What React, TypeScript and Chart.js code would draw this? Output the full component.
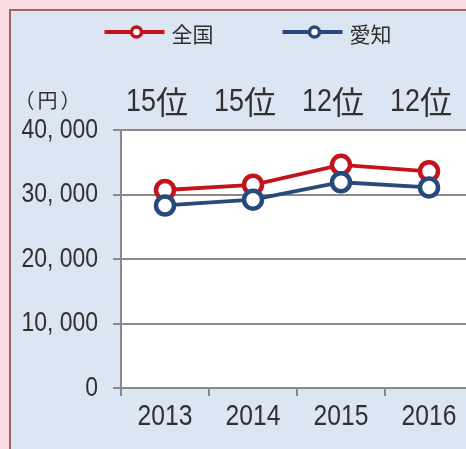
import React, { useEffect, useRef } from "react";
import { Chart, registerables } from "chart.js";

Chart.register(...registerables);

const categories = ["2013", "2014", "2015", "2016"];
const nationalValues = [30700, 31500, 34600, 33600];
const aichiValues = [28300, 29200, 31900, 31100];
const rankLabels = ["15位", "15位", "12位", "12位"];
const yTickLabels = ["0", "10, 000", "20, 000", "30, 000", "40, 000"];
const seriesNames = ["全国", "愛知"];
const unitLabel = "（円）";

const RED = "#c3141d";
const BLUE = "#264b7b";
const GRID = "#8a8a8a";
const TEXT = "#303030";
const LATIN = '"Liberation Sans", Arial, sans-serif';
const CJK = '"Noto Sans CJK JP", sans-serif';

function drawMixed(
  ctx: CanvasRenderingContext2D,
  text: string,
  x: number,
  y: number,
  size: number,
  scaleX: number,
  cjkSize: number,
  align: "left" | "center" | "right"
) {
  const runs = text.match(/[\x00-\x7F]+|[^\x00-\x7F]+/g) || [];
  const parts = runs.map((r) => {
    const ascii = /^[\x00-\x7F]+$/.test(r);
    ctx.font = ascii ? `${size}px ${LATIN}` : `${cjkSize}px ${CJK}`;
    const w = ctx.measureText(r).width * (ascii ? scaleX : 1);
    return { r, ascii, w };
  });
  const total = parts.reduce((a, p) => a + p.w, 0);
  let cx = align === "left" ? x : align === "center" ? x - total / 2 : x - total;
  ctx.textAlign = "left";
  ctx.textBaseline = "middle";
  parts.forEach((p) => {
    ctx.font = p.ascii ? `${size}px ${LATIN}` : `${cjkSize}px ${CJK}`;
    ctx.save();
    ctx.translate(cx, y);
    if (p.ascii) ctx.scale(scaleX, 1);
    ctx.fillText(p.r, 0, 0);
    ctx.restore();
    cx += p.w;
  });
}

const overlayPlugin = {
  id: "overlay",
  beforeDraw(chart: any) {
    const { ctx, chartArea } = chart;
    ctx.save();
    ctx.fillStyle = "#ffffff";
    ctx.fillRect(chartArea.left, chartArea.top, chartArea.right - chartArea.left, chartArea.bottom - chartArea.top);
    ctx.restore();
  },
  afterDraw(chart: any) {
    const { ctx, chartArea } = chart;
    const xScale = chart.scales.x;
    const yScale = chart.scales.y;
    ctx.save();
    // legend
    ctx.font = `21px ${CJK}`;
    ctx.textBaseline = "middle";
    const lineLen = 60;
    const gapText = 7;
    const gapItems = 69;
    const items = chart.data.datasets.map((d: any) => ({
      label: d.label,
      color: d.borderColor,
      w: lineLen + gapText + ctx.measureText(d.label).width,
    }));
    const total = items.reduce((a: number, it: any) => a + it.w, 0) + gapItems * (items.length - 1);
    let x = chart.width / 2 - total / 2 - 3;
    const ly = 21;
    items.forEach((it: any) => {
      ctx.strokeStyle = it.color;
      ctx.lineWidth = 4;
      ctx.beginPath();
      ctx.moveTo(x, ly);
      ctx.lineTo(x + lineLen, ly);
      ctx.stroke();
      ctx.beginPath();
      ctx.arc(x + lineLen / 2 + 2, ly, 5, 0, Math.PI * 2);
      ctx.fillStyle = "#ffffff";
      ctx.fill();
      ctx.lineWidth = 3.5;
      ctx.stroke();
      ctx.fillStyle = TEXT;
      ctx.font = `21px ${CJK}`;
      ctx.textAlign = "left";
      ctx.fillText(it.label, x + lineLen + gapText, ly + 2);
      x += it.w + gapItems;
    });
    ctx.fillStyle = TEXT;
    // rank labels
    rankLabels.forEach((r, i) => {
      drawMixed(ctx, r, xScale.getPixelForValue(i) - 8, 91, 32, 0.84, 32, "center");
    });
    // x tick labels
    categories.forEach((c, i) => {
      drawMixed(ctx, c, xScale.getPixelForValue(i), chartArea.bottom + 29, 29, 0.85, 29, "center");
    });
    // y tick labels
    yScale.ticks.forEach((t: any, i: number) => {
      drawMixed(ctx, yTickLabels[i], chartArea.left - 23, yScale.getPixelForValue(t.value), 28, 0.82, 28, "right");
    });
    // unit label
    ctx.font = `20px ${CJK}`;
    (ctx as any).letterSpacing = "3px";
    ctx.textAlign = "center";
    ctx.textBaseline = "middle";
    ctx.fillText(unitLabel, 38, 89);
    (ctx as any).letterSpacing = "0px";
    ctx.restore();
  },
};

export default function App() {
  const ref = useRef<HTMLCanvasElement | null>(null);
  useEffect(() => {
    if (!ref.current) return;
    const chart = new Chart(ref.current, {
      type: "line",
      data: {
        labels: categories,
        datasets: [
          {
            label: seriesNames[0],
            data: nationalValues,
            borderColor: RED,
            backgroundColor: "#ffffff",
            borderWidth: 3.8,
            pointRadius: 9,
            pointBorderWidth: 4.5,
            pointBackgroundColor: "#ffffff",
            pointBorderColor: RED,
            order: 1,
          },
          {
            label: seriesNames[1],
            data: aichiValues,
            borderColor: BLUE,
            backgroundColor: "#ffffff",
            borderWidth: 3.8,
            pointRadius: 9,
            pointBorderWidth: 4.5,
            pointBackgroundColor: "#ffffff",
            pointBorderColor: BLUE,
            order: 0,
          },
        ],
      },
      options: {
        responsive: false,
        animation: false,
        layout: { padding: { top: 119, right: 18, bottom: 12, left: 0 } },
        plugins: { legend: { display: false }, tooltip: { enabled: false }, title: { display: false } },
        scales: {
          x: {
            offset: true,
            grid: { offset: true, drawOnChartArea: false, drawTicks: true, tickLength: 8, color: GRID, lineWidth: 2 },
            border: { color: GRID, width: 2 },
            ticks: { font: { family: LATIN, size: 20 }, color: "rgba(0,0,0,0)", padding: 6, maxRotation: 0, autoSkip: false },
            afterFit: (s: any) => {
              s.height = 60;
            },
          },
          y: {
            min: 0,
            max: 40000,
            grid: { color: GRID, lineWidth: 2, tickLength: 8 },
            border: { color: GRID, width: 2 },
            ticks: {
              stepSize: 10000,
              font: { family: LATIN, size: 20 },
              color: "rgba(0,0,0,0)",
              padding: 14,
              callback: (_v: any, i: number) => yTickLabels[i],
            },
            afterFit: (s: any) => {
              s.width = 110;
            },
          },
        },
      },
      plugins: [overlayPlugin],
    });
    return () => chart.destroy();
  }, []);

  return (
    <div style={{ position: "fixed", left: 0, top: 0, width: 466, height: 449, overflow: "hidden", background: "#f7dce1" }}>
      <div
        style={{
          position: "absolute",
          left: 9,
          top: 9,
          width: 520,
          height: 500,
          border: "2px solid #a5616b",
          background: "#dce6f2",
        }}
      >
        <canvas ref={ref} width={480} height={449} style={{ position: "absolute", left: 0, top: 0, width: 480, height: 449 }} />
      </div>
    </div>
  );
}
